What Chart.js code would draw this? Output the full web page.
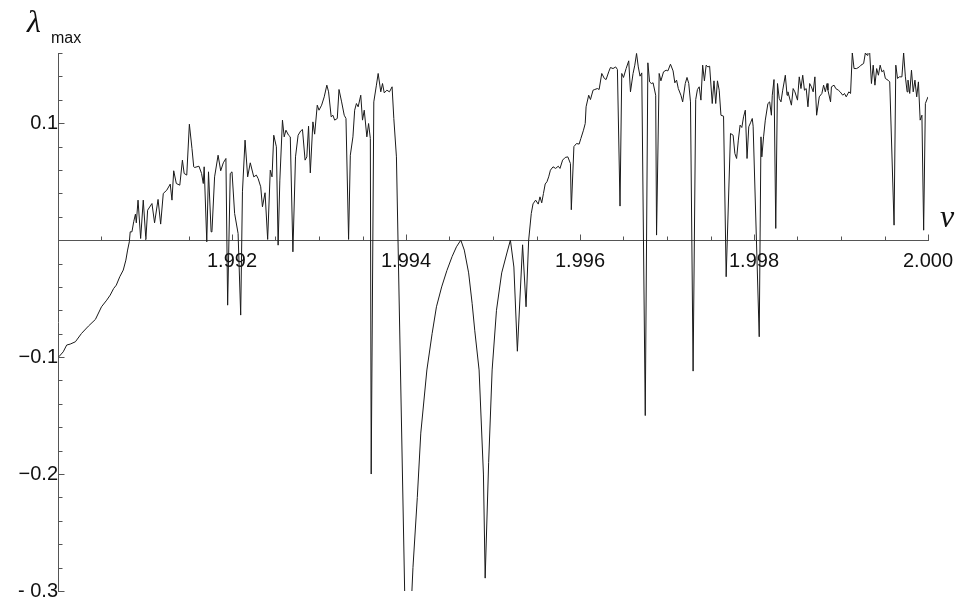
<!DOCTYPE html>
<html>
<head>
<meta charset="utf-8">
<style>
  html, body { margin: 0; padding: 0; background: #fff; }
  #wrap { width: 960px; height: 603px; }
</style>
<script src="https://cdn.jsdelivr.net/npm/chart.js@4.4.1/dist/chart.umd.min.js"></script>
</head>
<body>
<div id="wrap"><canvas id="chart" width="960" height="603"></canvas></div>
<script>
// nu values (x) and lambda_max values (y)
const nu = [
  1.99001, 1.99006, 1.99010, 1.99014, 1.99020, 1.99027, 1.99035, 1.99043, 1.99050, 1.99056,
  1.99060, 1.99064, 1.99067, 1.99071, 1.99075, 1.99078, 1.99080, 1.99082, 1.99083, 1.99085,
  1.99087, 1.99089, 1.99090, 1.99092, 1.99095, 1.99098, 1.99101, 1.99103, 1.99108, 1.99111,
  1.99115, 1.99118, 1.99121, 1.99125, 1.99129, 1.99131, 1.99133, 1.99136, 1.99140, 1.99143,
  1.99145, 1.99148, 1.99151, 1.99154, 1.99156, 1.99157, 1.99162, 1.99165, 1.99167, 1.99168,
  1.99171, 1.99173, 1.99176, 1.99177, 1.99180, 1.99184, 1.99187, 1.99190, 1.99193, 1.99195,
  1.99198, 1.99200,
  1.99203, 1.99207, 1.99210, 1.99212, 1.99215, 1.99218, 1.99221, 1.99225, 1.99228, 1.99230,
  1.99233, 1.99235, 1.99238, 1.99241, 1.99244, 1.99246, 1.99248, 1.99251, 1.99253, 1.99255,
  1.99258, 1.99260, 1.99262, 1.99265, 1.99267, 1.99270, 1.99273, 1.99276, 1.99279, 1.99281,
  1.99284, 1.99286, 1.99288, 1.99290, 1.99293, 1.99295, 1.99298, 1.99300, 1.99303, 1.99306,
  1.99309, 1.99311, 1.99314, 1.99316, 1.99318, 1.99321, 1.99323, 1.99326, 1.99329, 1.99331,
  1.99334, 1.99336, 1.99339, 1.99341, 1.99343, 1.99345, 1.99348, 1.99350, 1.99352, 1.99355,
  1.99357, 1.99359, 1.99360, 1.99363, 1.99366, 1.99368, 1.99371, 1.99373, 1.99375, 1.99378,
  1.99381, 1.99384, 1.99386, 1.99389, 1.99400, 1.99405, 1.99408, 1.99413, 1.99417,
  1.99424, 1.99430, 1.99435, 1.99441, 1.99447, 1.99453, 1.99458, 1.99463, 1.99467, 1.99472,
  1.99476, 1.99479, 1.99484, 1.99489, 1.99491, 1.99495, 1.99499, 1.99504, 1.99510, 1.99516,
  1.99520, 1.99524, 1.99528, 1.99534, 1.99538, 1.99541, 1.99544, 1.99546, 1.99549, 1.99552,
  1.99554, 1.99556, 1.99558, 1.99560, 1.99562, 1.99564, 1.99566, 1.99569, 1.99572, 1.99575,
  1.99577, 1.99580, 1.99583, 1.99586, 1.99589, 1.99590, 1.99593, 1.99596, 1.99599, 1.99601,
  1.99604, 1.99606,
  1.99607, 1.99610, 1.99612, 1.99615, 1.99617, 1.99620, 1.99622, 1.99625, 1.99628, 1.99630,
  1.99633, 1.99635, 1.99638, 1.99641, 1.99643, 1.99646, 1.99648, 1.99650, 1.99653, 1.99656,
  1.99658, 1.99661, 1.99663, 1.99665, 1.99667, 1.99669, 1.99671, 1.99675, 1.99678, 1.99680,
  1.99682, 1.99684, 1.99687, 1.99688, 1.99691, 1.99693, 1.99696, 1.99699, 1.99701, 1.99704,
  1.99707, 1.99709, 1.99711, 1.99713, 1.99716, 1.99718, 1.99721, 1.99723, 1.99725, 1.99727,
  1.99730, 1.99733, 1.99735, 1.99737, 1.99739, 1.99741, 1.99743, 1.99745, 1.99747, 1.99749,
  1.99752, 1.99754, 1.99756, 1.99758, 1.99760, 1.99762, 1.99765, 1.99768, 1.99773, 1.99776,
  1.99778, 1.99780, 1.99782, 1.99784, 1.99786, 1.99788, 1.99790, 1.99792, 1.99794, 1.99796,
  1.99798, 1.99799, 1.99806,
  1.99808, 1.99809, 1.99811, 1.99813, 1.99816, 1.99818, 1.99820, 1.99821, 1.99823, 1.99825,
  1.99827, 1.99829, 1.99831, 1.99833, 1.99836, 1.99838, 1.99839, 1.99843, 1.99845, 1.99847,
  1.99850, 1.99852, 1.99854, 1.99856, 1.99858, 1.99860, 1.99862, 1.99864, 1.99866, 1.99868,
  1.99870, 1.99872, 1.99875, 1.99878, 1.99880, 1.99882, 1.99884, 1.99885, 1.99888, 1.99889,
  1.99892, 1.99894, 1.99897, 1.99899, 1.99902, 1.99904, 1.99906, 1.99909, 1.99911, 1.99913,
  1.99915, 1.99918, 1.99921, 1.99923, 1.99926, 1.99928, 1.99930, 1.99931, 1.99933, 1.99935,
  1.99937, 1.99939, 1.99941, 1.99943, 1.99945, 1.99947, 1.99949, 1.99951, 1.99954, 1.99956,
  1.99961, 1.99963, 1.99965, 1.99967, 1.99970, 1.99972, 1.99974, 1.99976, 1.99977, 1.99979,
  1.99981, 1.99983, 1.99985, 1.99987, 1.99989, 1.99991, 1.99993, 1.99995, 1.99997, 2.00000
];

const lambdaMax = [
  -0.0997, -0.0955, -0.0897, -0.0889, -0.0869, -0.0798, -0.0735, -0.0678, -0.0570, -0.0513,
  -0.0470, -0.0413, -0.0385, -0.0313, -0.0256, -0.0171, -0.0085, -0.0014, 0.0071, 0.0071,
  0.0157, 0.0222, 0.0148, 0.0342, 0.0014, 0.0342, 0.0006, 0.0256, 0.0313, 0.0148,
  0.0348, 0.0137, 0.0399, 0.0427, 0.0479, 0.0342, 0.0593, 0.0484, 0.0470, 0.0684,
  0.0570, 0.0556, 0.0991, 0.0783, 0.0627, 0.0621, 0.0632, 0.0570, 0.0484, 0.0627,
  -0.0014, 0.0584, 0.0071, 0.0080, 0.0541, 0.0726, 0.0593, 0.0661, 0.0698, -0.0556,
  0.0570, 0.0584,
  0.0228, 0.0057, -0.0641, 0.0413, 0.0855, 0.0541, 0.0661, 0.0541, 0.0556, 0.0527,
  0.0456, 0.0285, 0.0405, 0.0006, 0.0598, 0.0541, 0.0897, 0.0798, -0.0043, 0.0513,
  0.1026, 0.0883, 0.0940, 0.0897, 0.0883, -0.0100, 0.0712, 0.0897, 0.0934, 0.0946,
  0.0684, 0.0712, 0.0974, 0.0575, 0.1011, 0.0906, 0.1154, 0.1111, 0.1154, 0.1225,
  0.1325, 0.1268, 0.1054, 0.1068, 0.1026, 0.1040, 0.1288, 0.1182, 0.1068, 0.1040,
  0.0006, 0.0726, 0.0883, 0.1111, 0.1168, 0.1140, 0.1239, 0.1026, 0.1111, 0.0883,
  0.0997, 0.0869, -0.2000, 0.1182, 0.1325, 0.1425, 0.1268, 0.1339, 0.1259, 0.1282,
  0.1268, 0.1311, 0.1040, 0.0712, -0.3600, -0.3300, -0.2800, -0.2200, -0.1650,
  -0.1110, -0.0800, -0.0570, -0.0400, -0.0260, -0.0140, -0.0057, 0.0000, -0.0085, -0.0280,
  -0.0540, -0.0770, -0.1110, -0.2000, -0.2890, -0.1900, -0.1110, -0.0600, -0.0280, -0.0110,
  0.0000, -0.0230, -0.0950, -0.0040, -0.0570, 0.0000, 0.0228, 0.0310, 0.0342, 0.0308,
  0.0370, 0.0319, 0.0399, 0.0480, 0.0499, 0.0541, 0.0598, 0.0627, 0.0613, 0.0632,
  0.0613, 0.0684, 0.0707, 0.0712, 0.0655, 0.0260, 0.0800, 0.0826, 0.0821, 0.0869,
  0.0940, 0.0997,
  0.1140, 0.1239, 0.1202, 0.1282, 0.1288, 0.1296, 0.1288, 0.1425, 0.1382, 0.1373,
  0.1439, 0.1476, 0.1467, 0.1481, 0.1459, 0.0291, 0.1425, 0.1391, 0.1467, 0.1533,
  0.1268, 0.1425, 0.1496, 0.1596, 0.1481, 0.1402, 0.1430, -0.1500, 0.1516, 0.1353,
  0.1339, 0.1345, 0.1239, 0.0043, 0.1425, 0.1362, 0.1439, 0.1453, 0.1447, 0.1504,
  0.1447, 0.1345, 0.1368, 0.1296, 0.1239, 0.1182, 0.1339, 0.1391, 0.1339, 0.1182,
  -0.1120, 0.1202, 0.1288, 0.1311, 0.1197, 0.1496, 0.1362, 0.1496, 0.1481, 0.1487,
  0.1168, 0.1362, 0.1168, 0.1362, 0.1282, 0.1068, 0.1060, -0.0313, 0.0912, 0.0897,
  0.0741, 0.0698, 0.0855, 0.0983, 0.0963, 0.1054, 0.1111, 0.0698, 0.0969, 0.1003,
  0.1040, 0.0974, -0.0826,
  0.0883, 0.0712, 0.0883, 0.1026, 0.1168, 0.1182, 0.1068, 0.1239, 0.1373, 0.0100,
  0.1339, 0.1211, 0.1182, 0.1282, 0.1410, 0.1239, 0.1268, 0.1154, 0.1296, 0.1268,
  0.1197, 0.1396, 0.1296, 0.1410, 0.1282, 0.1296, 0.1140, 0.1339, 0.1311, 0.1268,
  0.1396, 0.1068, 0.1225, 0.1254, 0.1325, 0.1268, 0.1339, 0.1282, 0.1182, 0.1311,
  0.1325, 0.1296, 0.1282, 0.1268, 0.1239, 0.1254, 0.1225, 0.1268, 0.1254, 0.1600,
  0.1467, 0.1467, 0.1481, 0.1496, 0.1510, 0.1600, 0.1581, 0.1620, 0.1600, 0.1339,
  0.1496, 0.1325, 0.1467, 0.1410, 0.1496, 0.1439, 0.1453, 0.1382, 0.1368, 0.1353,
  0.0128, 0.1496, 0.1382, 0.1396, 0.1396, 0.1600, 0.1396, 0.1268, 0.1368, 0.1254,
  0.1453, 0.1268, 0.1368, 0.1225, 0.1353, 0.1026, 0.1068, 0.0085, 0.1168, 0.1225
];

// tick labels as printed in the picture
const xTickValues = [1.992, 1.994, 1.996, 1.998, 2.000];
const xTickLabels = ['1.992', '1.994', '1.996', '1.998', '2.000'];
const yTickValues = [-0.3, -0.2, -0.1, 0.1];
const yTickLabels = ['- 0.3', '\u22120.2', '\u22120.1', '0.1'];

const xMin = 1.990, xMax = 2.000, yMin = -0.3, yMax = 0.16;

const points = nu.map((v, i) => ({ x: v, y: lambdaMax[i] }));

function findLabel(values, labels, v, eps) {
  for (let i = 0; i < values.length; i++) {
    if (Math.abs(values[i] - v) < eps) return labels[i];
  }
  return '';
}

const axisColor = '#555';
const font = { family: '"Liberation Sans", Arial, sans-serif', size: 20 };

// Mathematica style ticks: drawn inward from the axis lines
const axesPlugin = {
  id: 'axesTicks',
  afterDraw(chart) {
    const ctx = chart.ctx;
    const xs = chart.scales.x, ys = chart.scales.y;
    const y0 = Math.round(ys.getPixelForValue(0)) + 0.5;
    const x0 = Math.round(xs.getPixelForValue(xMin)) + 0.5;
    ctx.save();
    ctx.strokeStyle = axisColor;
    ctx.lineWidth = 1;
    ctx.beginPath();
    xs.ticks.forEach(t => {
      const px = Math.round(xs.getPixelForValue(t.value)) + 0.5;
      const major = findLabel(xTickValues, xTickLabels, t.value, 1e-6) !== '';
      const len = major ? 6 : 4;
      ctx.moveTo(px, y0);
      ctx.lineTo(px, y0 - len);
    });
    ys.ticks.forEach(t => {
      const py = Math.round(ys.getPixelForValue(t.value)) + 0.5;
      const major = findLabel(yTickValues, yTickLabels, t.value, 1e-6) !== '';
      const len = major ? 6 : 4;
      ctx.moveTo(x0, py);
      ctx.lineTo(x0 + len, py);
    });
    ctx.stroke();

    // axis names
    ctx.fillStyle = '#111';
    ctx.textAlign = 'left';
    ctx.textBaseline = 'alphabetic';
    ctx.font = 'italic 32px "Liberation Serif", "DejaVu Serif", serif';
    ctx.fillText('\u03bb', 27, 32);
    ctx.font = '16px "Liberation Sans", Arial, sans-serif';
    ctx.fillText('max', 51, 43);
    ctx.font = 'italic 32px "Liberation Serif", "DejaVu Serif", serif';
    ctx.fillText('\u03bd', 940, 227);
    ctx.restore();
  }
};

// drop the label overhang padding so the plot box sits where the picture has it
function noOverhang(scale) {
  scale.paddingTop = 0;
  scale.paddingBottom = 0;
  scale.paddingLeft = 0;
  scale.paddingRight = 0;
}

new Chart(document.getElementById('chart'), {
  type: 'scatter',
  data: {
    datasets: [{
      data: points,
      showLine: true,
      borderColor: '#1a1a1a',
      borderWidth: 1,
      pointRadius: 0,
      tension: 0
    }]
  },
  options: {
    responsive: false,
    animation: false,
    devicePixelRatio: 1,
    layout: { padding: { left: 58, right: 32, top: 53, bottom: 12 } },
    plugins: { legend: { display: false }, tooltip: { enabled: false } },
    scales: {
      x: {
        type: 'linear',
        min: xMin,
        max: xMax,
        position: { y: 0 },
        afterFit: noOverhang,
        grid: { display: false, drawTicks: false },
        border: { display: true, color: axisColor, width: 1 },
        ticks: {
          stepSize: 0.0005,
          autoSkip: false,
          maxRotation: 0,
          padding: 9,
          color: '#111',
          font: font,
          callback: v => findLabel(xTickValues, xTickLabels, v, 1e-6)
        }
      },
      y: {
        type: 'linear',
        min: yMin,
        max: yMax,
        position: { x: xMin },
        afterFit: noOverhang,
        grid: { display: false, drawTicks: false },
        border: { display: true, color: axisColor, width: 1 },
        ticks: {
          stepSize: 0.02,
          autoSkip: false,
          padding: 5,
          color: '#111',
          font: font,
          callback: v => findLabel(yTickValues, yTickLabels, v, 1e-6)
        }
      }
    }
  },
  plugins: [axesPlugin]
});
</script>
</body>
</html>
